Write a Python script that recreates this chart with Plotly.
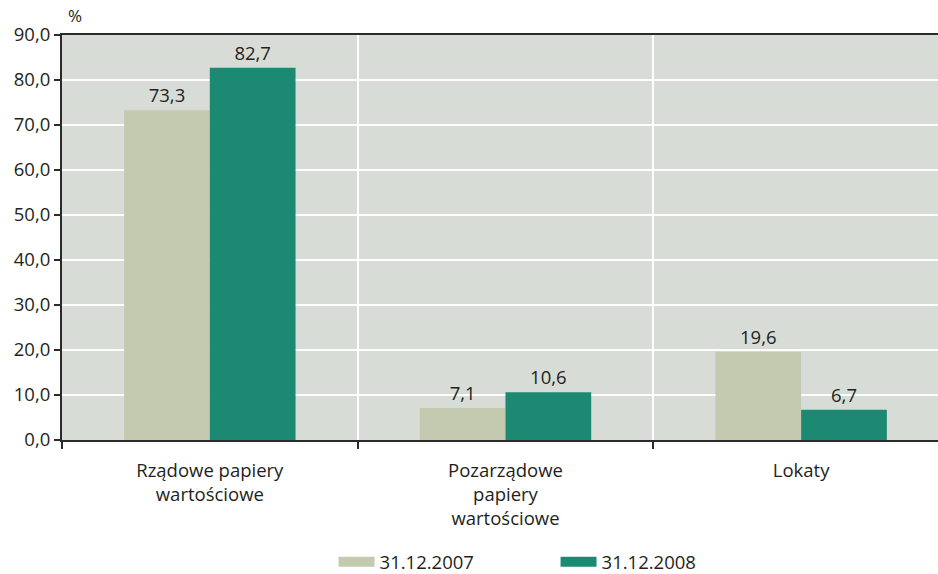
import plotly.graph_objects as go

categories = ["Rządowe papiery<br>wartościowe", "Pozarządowe<br>papiery<br>wartościowe", "Lokaty"]
series_names = ["31.12.2007", "31.12.2008"]
values_2007 = [73.3, 7.1, 19.6]
values_2008 = [82.7, 10.6, 6.7]
colors = ["#c4cab0", "#1c8a72"]

TXT = "#231f20"
FONT = "Open Sans"
FS = 18.5

fig = go.Figure()
for name, vals, col in zip(series_names, [values_2007, values_2008], colors):
    fig.add_trace(go.Bar(
        x=categories, y=vals, name=name, marker=dict(color=col, line=dict(width=0)),
        texttemplate="%{y:.1f}", textposition="outside", cliponaxis=False,
        textfont=dict(size=FS, color=TXT, family=FONT), showlegend=False,
    ))
for name, col in zip(series_names, colors):
    fig.add_trace(go.Scatter(
        x=[None], y=[None], mode="lines", name=name,
        line=dict(color=col, width=10), showlegend=True,
    ))

fig.update_layout(
    width=938, height=574,
    margin=dict(l=62, r=0, t=35, b=134, autoexpand=False),
    plot_bgcolor="#d7ddd6", paper_bgcolor="white",
    separators=", ",
    barmode="group", bargap=0.42, bargroupgap=0,
    font=dict(family=FONT, size=FS, color=TXT),
    legend=dict(orientation="h", x=0.31, xanchor="left", yref="paper", y=-0.255, yanchor="top",
                font=dict(size=FS, color=TXT), entrywidth=171, entrywidthmode="pixels",
                itemwidth=36, traceorder="normal"),
    annotations=[dict(text="%", xref="paper", yref="paper", x=0, y=1, xshift=4, yshift=6,
                      xanchor="left", yanchor="bottom", showarrow=False,
                      font=dict(size=17, color=TXT))],
)
fig.update_xaxes(
    type="category", range=[-0.5, 2.463], tickson="boundaries",
    showgrid=True, gridcolor="white", gridwidth=1.5,
    showline=True, linecolor="#2b2b2b", linewidth=2, mirror=True,
    ticks="outside", ticklen=7, tickcolor="#2b2b2b", tickwidth=2,
    tickfont=dict(size=FS, color=TXT), fixedrange=True, ticklabelstandoff=13,
    automargin=False,
)
fig.update_yaxes(
    range=[0, 90], dtick=10, tickformat=".1f",
    showgrid=True, gridcolor="white", gridwidth=1.5,
    showline=True, linecolor="#2b2b2b", linewidth=2,
    ticks="outside", ticklen=6, tickcolor="#2b2b2b", tickwidth=2,
    tickfont=dict(size=FS, color=TXT), zeroline=False, automargin=False,
)

fig.write_html("out.html")
